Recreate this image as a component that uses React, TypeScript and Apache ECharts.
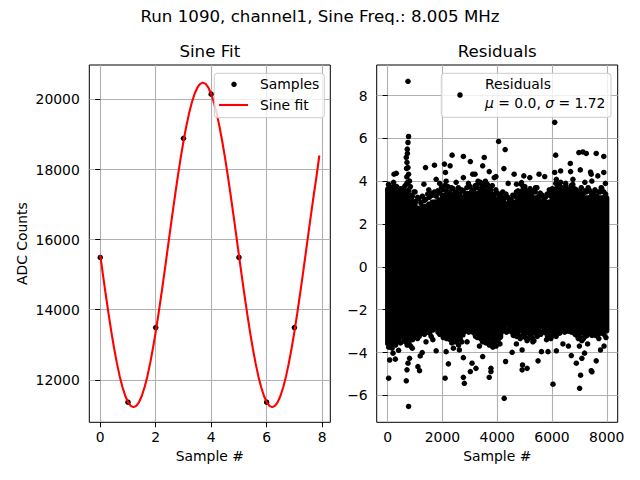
import { useEffect, useRef } from 'react';
import * as echarts from 'echarts';

const FONT = 'DejaVu Sans';
const SUPTITLE = 'Run 1090, channel1, Sine Freq.: 8.005 MHz';

// Sine Fit panel
const sampleX = [0, 1, 2, 3, 4, 5, 6, 7];
const sampleY = [15490, 11360, 13490, 18890, 20150, 15490, 11360, 13490];
const fitX = [
  0, 0.1, 0.2, 0.3, 0.4, 0.5, 0.6, 0.7, 0.8, 0.9, 1, 1.1, 1.2, 1.3, 1.4, 1.5, 1.6, 1.7, 1.8, 1.9,
  2, 2.1, 2.2, 2.3, 2.4, 2.5, 2.6, 2.7, 2.8, 2.9, 3, 3.1, 3.2, 3.3, 3.4, 3.5, 3.6, 3.7, 3.8, 3.9,
  4, 4.1, 4.2, 4.3, 4.4, 4.5, 4.6, 4.7, 4.8, 4.9, 5, 5.1, 5.2, 5.3, 5.4, 5.5, 5.6, 5.7, 5.8, 5.9,
  6, 6.1, 6.2, 6.3, 6.4, 6.5, 6.6, 6.7, 6.8, 6.9, 7, 7.1, 7.2, 7.3, 7.4, 7.5, 7.6, 7.7, 7.8, 7.9,
];
const fitY = [
  15559, 14982, 14419, 13879, 13369, 12899, 12475, 12104, 11793, 11545, 11365, 11257, 11220, 11257, 11365, 11545, 11793, 12104, 12475, 12899,
  13369, 13879, 14419, 14982, 15559, 16141, 16718, 17281, 17821, 18331, 18801, 19225, 19596, 19907, 20155, 20335, 20443, 20480, 20443, 20335,
  20155, 19907, 19596, 19225, 18801, 18331, 17821, 17281, 16718, 16141, 15559, 14982, 14419, 13879, 13369, 12899, 12475, 12104, 11793, 11545,
  11365, 11257, 11220, 11257, 11365, 11545, 11793, 12104, 12475, 12899, 13369, 13879, 14419, 14982, 15559, 16141, 16718, 17281, 17821, 18400,
];
const fitXTicks = [0, 2, 4, 6, 8];
const fitYTicks = [12000, 14000, 16000, 18000, 20000];

// Residuals panel: solid core of the cloud per 125-sample bin (top / bottom edge)
const BIN = 125;
const coreHi = [
  3.75, 3.75, 3.45, 3.45, 3.35, 3.65, 3.45, 3.15, 2.85, 2.85, 2.95, 2.95, 3.05, 3.15, 3.15, 3.25,
  3.45, 3.45, 3.35, 3.45, 3.35, 3.25, 3.35, 3.55, 3.55, 3.45, 3.55, 3.75, 3.65, 3.65, 3.45, 3.25,
  3.25, 3.15, 3.05, 3.05, 2.95, 3.15, 3.35, 3.65, 3.55, 3.35, 3.25, 3.35, 3.15, 3.15, 3.05, 3.15,
  3.45, 3.75, 3.65, 3.55, 3.55, 3.45, 3.65, 3.45, 3.35, 3.25, 3.35, 3.35, 3.25, 3.15, 3.35, 3.35,
];
const coreLo = [
  -3.7, -3.7, -3.6, -3.3, -3.2, -3.4, -3.5, -3.3, -3.1, -3.1, -2.9, -2.9, -3.0, -2.8, -2.8, -3.0,
  -3.2, -3.2, -3.3, -3.3, -3.4, -3.3, -2.9, -2.8, -2.8, -3.0, -3.2, -3.2, -3.3, -3.4, -3.5, -3.5,
  -3.4, -2.9, -2.8, -2.8, -2.9, -3.0, -3.1, -3.1, -3.2, -3.2, -3.2, -3.0, -2.9, -2.9, -3.0, -3.1,
  -3.1, -3.1, -3.0, -2.8, -2.8, -2.8, -2.9, -3.1, -3.2, -3.2, -3.1, -3.0, -3.0, -3.1, -3.0, -3.1,
];
// dots on the ragged upper and lower fringe of the core
const fringeTop: [number, number][] = [
  [30, 3.85], [95, 3.6], [150, 3.7], [215, 3.95], [280, 3.55], [330, 3.75], [400, 3.5], [460, 3.65],
  [520, 3.45], [590, 3.7], [640, 3.8], [700, 3.9], [770, 3.6], [830, 3.75], [900, 3.3], [960, 3.5],
  [1020, 3.05], [1090, 3.25], [1140, 3.2], [1210, 3.0], [1270, 3.3], [1330, 3.1], [1390, 3.15], [1460, 3.4],
  [1520, 3.25], [1580, 3.45], [1640, 3.35], [1710, 3.5], [1770, 3.3], [1830, 3.55], [1900, 3.45], [1960, 3.7],
  [2020, 3.6], [2080, 3.8], [2140, 3.55], [2200, 3.75], [2270, 3.5], [2330, 3.7], [2390, 3.65], [2450, 3.45],
  [2520, 3.5], [2580, 3.7], [2640, 3.4], [2700, 3.6], [2760, 3.55], [2830, 3.35], [2890, 3.7], [2950, 3.9],
  [3010, 3.75], [3070, 3.55], [3140, 3.6], [3200, 3.8], [3260, 3.7], [3320, 3.9], [3390, 3.95], [3450, 3.75],
  [3510, 3.8], [3570, 4.0], [3640, 3.85], [3700, 3.65], [3760, 3.6], [3820, 3.8], [3890, 3.4], [3950, 3.6],
  [4010, 3.45], [4070, 3.3], [4140, 3.35], [4200, 3.5], [4260, 3.2], [4320, 3.4], [4390, 3.25], [4450, 3.1],
  [4510, 3.15], [4570, 3.35], [4640, 3.3], [4700, 3.5], [4760, 3.55], [4820, 3.4], [4890, 3.85], [4950, 3.7],
  [5010, 3.75], [5070, 3.55], [5140, 3.5], [5200, 3.65], [5260, 3.4], [5320, 3.55], [5390, 3.5], [5450, 3.7],
  [5510, 3.3], [5570, 3.45], [5640, 3.35], [5700, 3.2], [5760, 3.25], [5820, 3.4], [5890, 3.35], [5950, 3.5],
  [6010, 3.65], [6070, 3.5], [6140, 3.9], [6200, 3.75], [6260, 3.8], [6320, 3.95], [6390, 3.7], [6450, 3.55],
  [6510, 3.75], [6570, 3.6], [6640, 3.6], [6700, 3.8], [6760, 3.85], [6820, 3.65], [6890, 3.6], [6950, 3.45],
  [7010, 3.5], [7070, 3.7], [7140, 3.4], [7200, 3.55], [7260, 3.5], [7320, 3.7], [7390, 3.55], [7450, 3.4],
  [7510, 3.45], [7570, 3.6], [7640, 3.3], [7700, 3.5], [7760, 3.5], [7820, 3.65], [7890, 3.5], [7960, 3.4],
];
const fringeBottom: [number, number][] = [
  [40, -3.75], [100, -3.55], [160, -3.8], [220, -3.6], [290, -3.65], [340, -3.45], [410, -3.35], [470, -3.55],
  [530, -3.25], [590, -3.45], [650, -3.5], [710, -3.65], [780, -3.55], [840, -3.7], [910, -3.4], [960, -3.25],
  [1030, -3.15], [1090, -3.35], [1150, -3.25], [1210, -3.1], [1280, -2.95], [1340, -3.15], [1400, -3.05], [1460, -2.9],
  [1530, -3.1], [1590, -3.25], [1650, -2.95], [1710, -2.85], [1780, -2.9], [1840, -3.05], [1900, -3.15], [1960, -3.0],
  [2030, -3.3], [2090, -3.15], [2150, -3.35], [2210, -3.2], [2280, -3.4], [2340, -3.55], [2400, -3.35], [2460, -3.5],
  [2530, -3.5], [2590, -3.65], [2650, -3.35], [2710, -3.5], [2780, -3.05], [2840, -2.95], [2900, -2.9], [2960, -3.05],
  [3030, -2.85], [3090, -3.0], [3150, -3.1], [3210, -3.25], [3280, -3.3], [3340, -3.15], [3400, -3.35], [3460, -3.5],
  [3530, -3.4], [3590, -3.55], [3650, -3.5], [3710, -3.65], [3780, -3.6], [3840, -3.75], [3900, -3.55], [3960, -3.7],
  [4030, -3.45], [4090, -3.3], [4150, -3.05], [4210, -2.9], [4280, -2.9], [4340, -3.05], [4400, -2.95], [4460, -2.85],
  [4530, -3.05], [4590, -3.2], [4650, -3.1], [4710, -3.25], [4780, -3.2], [4840, -3.35], [4900, -3.25], [4960, -3.15],
  [5030, -3.3], [5090, -3.45], [5150, -3.35], [5210, -3.2], [5280, -3.3], [5340, -3.45], [5400, -3.1], [5460, -3.25],
  [5530, -3.0], [5590, -3.15], [5650, -3.05], [5710, -2.9], [5780, -3.1], [5840, -3.25], [5900, -3.2], [5960, -3.35],
  [6030, -3.2], [6090, -3.05], [6150, -3.25], [6210, -3.1], [6280, -3.1], [6340, -2.95], [6400, -2.9], [6460, -3.05],
  [6530, -2.85], [6590, -3.0], [6650, -2.9], [6710, -3.05], [6780, -3.0], [6840, -3.15], [6900, -3.2], [6960, -3.35],
  [7030, -3.3], [7090, -3.45], [7150, -3.35], [7210, -3.25], [7280, -3.2], [7340, -3.05], [7400, -3.1], [7460, -3.2],
  [7530, -3.05], [7590, -3.2], [7650, -3.2], [7710, -3.35], [7780, -3.1], [7840, -3.0], [7900, -3.15], [7970, -3.3],
];
// individual residuals well outside the core
const residPoints: [number, number][] = [
  [742, 8.67], [764, 6.09], [742, 5.81], [716, 5.5], [720, 5.3], [680, 5.11], [705, 4.88], [742, 4.64],
  [690, 4.6], [764, 4.33], [700, 4.2], [800, 4.01], [730, 3.95],
  [233, 4.33], [316, 4.37], [51, 3.81], [255, 3.78], [498, 3.54],
  [1324, 3.86], [1382, 4.64], [1709, 4.75], [1771, 4.09], [2073, 4.8], [2109, 4.41], [2135, 4.0], [2280, 4.72], [2353, 5.22],
  [2764, 5.16], [2764, 4.17], [3018, 4.92], [3105, 4.33], [3189, 4.33], [3469, 4.72], [3527, 5.11], [3709, 4.45], [3891, 4.17], [3953, 4.22],
  [4050, 5.86], [4290, 5.48], [4244, 4.59], [4618, 4.33], [4705, 3.86], [4887, 3.94], [4971, 4.25], [5189, 4.17], [5527, 4.33], [5735, 4.22],
  [6100, 6.75], [6135, 5.22], [6098, 4.41], [6160, 4.09], [6316, 4.48], [6669, 4.83], [6680, 4.45], [6764, 4.09],
  [6982, 5.34], [7127, 5.37], [7251, 5.3], [7615, 5.3], [7891, 5.16],
  [7033, 4.53], [7407, 4.43], [7433, 4.33], [7455, 4.01], [7673, 4.25], [7891, 4.41], [7796, 3.7],
  [1000, 3.5], [1500, 3.6], [1900, 3.9], [2500, 3.95], [3300, 4.0], [3600, 3.8], [4400, 3.9], [5000, 3.6],
  [5400, 3.7], [5900, 3.6], [6500, 3.9], [7200, 3.95], [7950, 3.9],
  [764, -6.52], [4255, -6.14],
  [36, -5.2], [680, -5.32], [2098, -5.2], [2764, -5.16], [2800, -5.44], [3709, -5.16], [3771, -4.89], [3771, -4.74],
  [2218, -4.53], [3018, -4.89], [3225, -4.74], [1164, -4.85], [1105, -4.66], [705, -4.81], [742, -4.5], [73, -4.35],
  [280, -4.31], [800, -4.27], [1189, -4.16], [1262, -4.0], [2764, -4.24], [3080, -4.5], [3469, -4.19], [1771, -3.92],
  [2135, -3.96], [2618, -3.88], [196, -4.03],
  [6036, -5.48], [7007, -5.67], [7044, -5.06], [7433, -4.85], [7460, -4.9], [4909, -4.81], [5091, -4.74], [4924, -4.58],
  [5491, -4.39], [6887, -4.5], [7615, -4.39], [6705, -4.14], [7091, -4.27], [4305, -4.42], [4545, -3.99], [4909, -3.88],
  [5615, -3.96], [5855, -3.96], [6160, -3.92], [7771, -3.88], [7189, -4.03],
  [400, -3.9], [900, -3.8], [1400, -3.5], [1650, -3.4], [2400, -3.8], [2900, -3.5], [3350, -3.7], [3900, -3.5],
  [4100, -3.6], [4700, -3.6], [5300, -3.5], [5800, -3.4], [6400, -3.6], [6600, -3.7], [7000, -3.7], [7300, -3.6], [7900, -3.7],
];
const resXTicks = [0, 2000, 4000, 6000, 8000];
const resYTicks = [-6, -4, -2, 0, 2, 4, 6, 8];

const minus = (v: number) => String(v).replace('-', '\u2212');

function axis(ticks: number[], min: number, max: number, splitNumber: number, margin: number, extra: object = {}) {
  return {
    type: 'value',
    min,
    max,
    splitNumber,
    axisLine: { show: false },
    axisTick: { show: true, length: 5, customValues: ticks, lineStyle: { color: '#000', width: 1 } },
    axisLabel: {
      customValues: ticks,
      color: '#000',
      fontFamily: FONT,
      fontSize: 13.9,
      margin,
      formatter: (v: number) => minus(v),
    },
    splitLine: { show: true, lineStyle: { color: '#b0b0b0', width: 1.1 } },
    ...extra,
  };
}

const nameStyle = { color: '#000', fontFamily: FONT, fontSize: 13.9 };

export default function App() {
  const chartRef = useRef<HTMLDivElement>(null);

  useEffect(() => {
    if (!chartRef.current) return;
    document.body.style.margin = '0';
    const chart = echarts.init(chartRef.current, null, { renderer: 'svg' });

    const text = (t: string, x: number, y: number, size: number, align = 'left') => ({
      type: 'text',
      z: 100,
      style: { text: t, x, y, fill: '#000', fontFamily: FONT, fontSize: size, align, verticalAlign: 'middle' },
    });

    chart.setOption({
      animation: false,
      backgroundColor: '#fff',
      grid: [
        { left: 89.3, top: 65, width: 241, height: 357.3, show: true, borderColor: '#000', borderWidth: 1, backgroundColor: 'transparent', containLabel: false, outerBoundsMode: 'none' },
        { left: 376.7, top: 65, width: 241, height: 357.3, show: true, borderColor: '#000', borderWidth: 1, backgroundColor: 'transparent', containLabel: false, outerBoundsMode: 'none' },
      ],
      xAxis: [
        axis(fitXTicks, -0.395, 8.295, 5, 8, { gridIndex: 0, name: 'Sample #', nameLocation: 'middle', nameGap: 27, nameTextStyle: nameStyle }),
        axis(resXTicks, -400, 8399, 5, 8, { gridIndex: 1, name: 'Sample #', nameLocation: 'middle', nameGap: 27, nameTextStyle: nameStyle }),
      ],
      yAxis: [
        axis(fitYTicks, 10787, 20983, 5, 9.5, { gridIndex: 0, name: 'ADC Counts', nameLocation: 'middle', nameGap: 60, nameTextStyle: nameStyle }),
        axis(resYTicks, -7.26, 9.43, 8, 9, { gridIndex: 1 }),
      ],
      series: [
        {
          name: 'Samples',
          type: 'scatter',
          xAxisIndex: 0,
          yAxisIndex: 0,
          data: sampleX.map((x, i) => [x, sampleY[i]]),
          symbolSize: 5.5,
          itemStyle: { color: '#000', opacity: 1 },
          z: 2,
        },
        {
          name: 'Sine fit',
          type: 'line',
          xAxisIndex: 0,
          yAxisIndex: 0,
          data: fitX.map((x, i) => [x, fitY[i]]),
          showSymbol: false,
          lineStyle: { color: '#ff0000', width: 2.1 },
          z: 3,
        },
        {
          name: 'Residuals core',
          type: 'custom',
          xAxisIndex: 1,
          yAxisIndex: 1,
          data: coreHi.map((hi, i) => [i * BIN, (i + 1) * BIN, coreLo[i], hi]),
          encode: { x: [0, 1], y: [2, 3] },
          renderItem: (_params: any, api: any) => {
            const a = api.coord([api.value(0), api.value(3)]);
            const b = api.coord([api.value(1), api.value(2)]);
            return {
              type: 'rect',
              shape: { x: a[0] - 2.6, y: a[1], width: b[0] - a[0] + 5.2, height: b[1] - a[1], r: 2.6 },
              style: { fill: '#000' },
            };
          },
          z: 2,
        },
        {
          name: 'Residuals',
          type: 'scatter',
          xAxisIndex: 1,
          yAxisIndex: 1,
          data: [...fringeTop, ...fringeBottom, ...residPoints],
          symbolSize: 5.5,
          itemStyle: { color: '#000', opacity: 1 },
          z: 3,
        },
      ],
      graphic: [
        text(SUPTITLE, 320, 16.9, 16.67, 'center'),
        text('Sine Fit', 209.8, 51.5, 16.67, 'center'),
        text('Residuals', 497.2, 51.5, 16.67, 'center'),
        // Sine Fit legend
        {
          type: 'rect',
          z: 99,
          shape: { x: 214.3, y: 73.3, width: 110, height: 44.4, r: 3 },
          style: { fill: 'rgba(255,255,255,0.8)', stroke: '#cccccc', lineWidth: 1 },
        },
        { type: 'circle', z: 100, shape: { cx: 234, cy: 84.3, r: 2.75 }, style: { fill: '#000' } },
        text('Samples', 260, 84.3, 13.9),
        { type: 'line', z: 100, shape: { x1: 219, y1: 105, x2: 248, y2: 105 }, style: { stroke: '#ff0000', lineWidth: 2.1 } },
        text('Sine fit', 260, 105, 13.9),
        // Residuals legend
        {
          type: 'rect',
          z: 99,
          shape: { x: 441.3, y: 73.3, width: 169.7, height: 44, r: 3 },
          style: { fill: 'rgba(255,255,255,0.8)', stroke: '#cccccc', lineWidth: 1 },
        },
        { type: 'circle', z: 100, shape: { cx: 460, cy: 95, r: 2.75 }, style: { fill: '#000' } },
        text('Residuals', 485, 84.3, 13.9),
        {
          type: 'text',
          z: 100,
          style: {
            text: '{i|μ} = 0.0, {i|σ} = 1.72',
            x: 485,
            y: 102.7,
            fill: '#000',
            fontFamily: FONT,
            fontSize: 13.9,
            align: 'left',
            verticalAlign: 'middle',
            rich: { i: { fontStyle: 'italic', fontFamily: FONT, fontSize: 13.9, fill: '#000' } },
          },
        },
      ],
    });

    return () => {
      chart.dispose();
    };
  }, []);

  return <div ref={chartRef} style={{ width: '640px', height: '480px' }} />;
}
